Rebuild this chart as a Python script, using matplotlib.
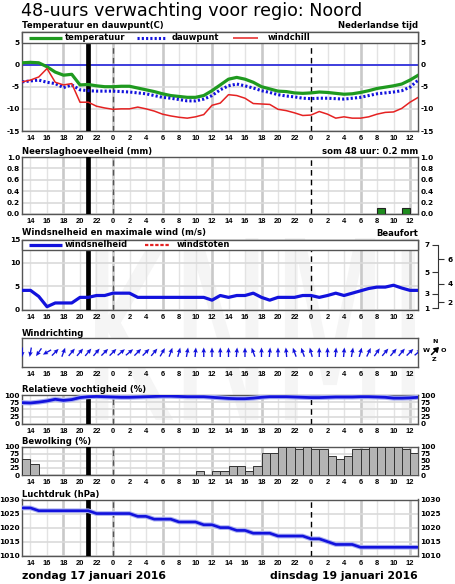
import matplotlib
matplotlib.use("Agg")
import matplotlib.pyplot as plt
import numpy as np
from matplotlib.patches import Rectangle, FancyArrowPatch, PathPatch
from matplotlib.textpath import TextPath
from matplotlib.font_manager import FontProperties
from matplotlib.transforms import Affine2D

plt.rcParams['font.family'] = ['DejaVu Sans']

# ---------------- data ----------------
hours = list(range(13, 62))  # 13:00 zondag .. 13:00 dinsdag
tick_hours = list(range(14, 61, 2))
tick_labels = [str(h % 24) for h in tick_hours]

temperature = [0.4, 0.5, 0.4, -0.5, -1.7, -2.4, -2.2, -4.6, -4.5, -4.8, -5.0, -5.0,
               -4.9, -4.9, -5.3, -5.7, -6.1, -6.6, -7.0, -7.2, -7.4, -7.4, -7.0, -5.9,
               -4.6, -3.3, -2.9, -3.3, -4.0, -5.0, -5.5, -6.0, -6.1, -6.4, -6.5, -6.4,
               -6.2, -6.3, -6.5, -6.7, -6.6, -6.3, -5.9, -5.4, -5.1, -4.8, -4.4, -3.5, -2.4]
dewpoint = [-3.9, -3.7, -3.5, -4.0, -4.3, -5.2, -4.6, -5.7, -5.9, -6.0, -6.0, -6.0,
            -6.1, -6.2, -6.4, -6.6, -7.0, -7.4, -7.6, -7.9, -8.2, -8.2, -7.8, -7.0,
            -5.7, -4.8, -4.4, -4.8, -5.3, -5.9, -6.3, -6.8, -7.1, -7.3, -7.6, -7.7,
            -7.6, -7.6, -7.7, -7.8, -7.6, -7.4, -7.0, -6.6, -6.4, -6.2, -5.9, -5.1, -3.5]
windchill = [-3.9, -3.5, -2.8, -0.9, -4.0, -4.6, -4.3, -8.5, -8.5, -9.4, -9.8, -10.1,
             -10.0, -10.0, -9.6, -10.0, -10.5, -11.2, -11.6, -11.9, -12.1, -11.8, -11.3, -9.2,
             -8.7, -6.8, -7.0, -7.6, -8.8, -8.9, -9.0, -10.1, -10.4, -10.9, -11.5, -11.4,
             -10.6, -11.2, -12.1, -11.8, -12.1, -12.1, -11.8, -11.2, -10.8, -10.7, -9.9, -8.5, -7.4]

precip_hours = [56, 59]
precip_mm = [0.1, 0.1]

wind_speed = [4.1, 4.1, 2.8, 0.6, 1.4, 1.4, 1.4, 2.6, 2.6, 3.0, 3.0, 3.5,
              3.5, 3.5, 2.6, 2.6, 2.6, 2.6, 2.6, 2.6, 2.6, 2.6, 2.6, 2.0,
              3.0, 2.6, 3.0, 3.0, 3.5, 2.6, 2.0, 2.6, 2.6, 2.6, 3.0, 3.0,
              2.6, 3.0, 3.5, 3.0, 3.5, 4.0, 4.5, 4.8, 4.8, 5.2, 4.6, 4.1, 4.1]
beaufort_ms = [0.3, 1.6, 3.4, 5.5, 8.0, 10.8, 13.9]
beaufort_labels = ['1', '2', '3', '4', '5', '6', '7']

# direction the arrow points to (degrees clockwise from north)
wind_dir = [180, 190, 215, 240, 45, 20, 40, 40, 40, 40, 45, 45,
            50, 50, 45, 45, 40, 30, 20, 15, 10, 5, 0, 0,
            0, 0, 5, 0, 340, 0, 5, 0, 355, 340, 340, 345,
            0, 0, 5, 5, 10, 15, 25, 35, 40, 40, 40, 45, 50]

humidity = [74, 73, 76, 80, 86, 82, 85, 92, 95, 96, 95, 94,
            93, 93, 94, 95, 96, 97, 97, 96, 95, 95, 95, 93,
            91, 89, 88, 88, 90, 93, 95, 95, 95, 94, 93, 92,
            92, 93, 94, 94, 94, 95, 95, 94, 93, 90, 90, 91, 93]

cloud_hours = list(range(13, 61))
clouds = [55, 40, 0, 0, 0, 0, 0, 0, 0, 0, 0, 0,
          0, 0, 0, 0, 0, 0, 0, 0, 0, 15, 0, 15,
          15, 30, 30, 15, 30, 78, 78, 100, 100, 90, 100, 90,
          90, 65, 55, 65, 90, 90, 100, 100, 100, 100, 90, 78]

pressure = [1027, 1027, 1026, 1026, 1026, 1026, 1026, 1026, 1026, 1025, 1025, 1025,
            1025, 1025, 1024, 1024, 1023, 1023, 1023, 1022, 1022, 1022, 1021, 1021,
            1020, 1020, 1019, 1019, 1018, 1018, 1018, 1017, 1017, 1017, 1017, 1016,
            1016, 1015, 1014, 1014, 1014, 1013, 1013, 1013, 1013, 1013, 1013, 1013, 1013]

now_hour = 21

# ---------------- layout ----------------
W, H = 455, 584
fig = plt.figure(figsize=(W / 100, H / 100), dpi=100)
fig.patch.set_facecolor('white')
L, R = 22.25, 418.25
PIX = Affine2D().scale(1 / W, 1 / H) + fig.transFigure

def box(top, bottom, left=L, right=R):
    return [left / W, 1 - bottom / H, (right - left) / W, (bottom - top) / H]

def ftext(x, y, s, **kw):
    fig.text(x / W, 1 - y / H, s, **kw)

# faint KNMI watermark behind the panels
tp = TextPath((0, 0), 'KNMI', size=1, prop=FontProperties(family='DejaVu Sans'))
ext = tp.get_extents()
wm_tr = (Affine2D().translate(-ext.x0, -ext.y0)
         .scale((415 - 95) / ext.width, (420 - 238) / ext.height)
         .translate(95, H - 420) + PIX)
fig.add_artist(PathPatch(tp, transform=wm_tr, facecolor='#f5f5f5', edgecolor='none',
                         zorder=-10))

XT_FONT = dict(family='Liberation Sans', size=5.4, weight='bold')
YT_FONT = dict(family='DejaVu Sans', size=5.3, weight='bold')
TITLE_FS = 6.1
GREEN = '#1f9a1f'
BLUE = '#1212dd'
RED = '#e52222'
SPINE = '#555555'

def style(ax, ylim, yticks, ylabels, bar=True, grid=True, right=True, hgrid=None):
    ax.set_xlim(13, 61)
    ax.set_ylim(*ylim)
    ax.set_facecolor('none')
    if grid:
        for h in range(14, 61, 2):
            if h % 24 == 0:
                continue
            if h % 6 == 0:
                ax.axvline(h, color='#c9c9c9', lw=1.9, zorder=0.5)
            else:
                ax.axvline(h, color='#e3e3e3', lw=1.0, zorder=0.5)
        for y in (hgrid if hgrid is not None else yticks):
            ax.axhline(y, color='#dadada', lw=1.2, zorder=0.6)
        ax.axvline(24, color='#c9c9c9', lw=1.9, zorder=0.5)
        ax.axvline(24, color='#555555', lw=1.0, ls=(0, (4, 3)), zorder=2)
        ax.axvline(48, color='black', lw=1.0, ls=(0, (4, 3)), zorder=2)
    if bar:
        ax.axvline(now_hour, color='black', lw=3.4, zorder=3)
    ax.set_xticks(tick_hours)
    ax.set_xticklabels(tick_labels, **XT_FONT)
    ax.set_yticks(yticks)
    ax.set_yticklabels(ylabels, **YT_FONT)
    ax.tick_params(axis='both', length=0, pad=1.6)
    ax.tick_params(axis='x', pad=3.0)
    if right:
        ax.tick_params(axis='y', labelright=True)
    for s in ax.spines.values():
        s.set_color(SPINE)
        s.set_linewidth(1.0)

def legend_box(ax, frac, items):
    ax.add_patch(Rectangle((0, 1 - frac), 1, frac, transform=ax.transAxes,
                           facecolor='white', edgecolor=SPINE, lw=1.0, zorder=6,
                           clip_on=False))
    yc = 1 - frac / 2
    for (x0, x1, tx, label, kw) in items:
        ax.plot([(x0 - L) / (R - L), (x1 - L) / (R - L)], [yc, yc],
                transform=ax.transAxes, zorder=7, clip_on=False,
                solid_capstyle='butt', **kw)
        ax.text((tx - L) / (R - L), yc, label, transform=ax.transAxes,
                fontsize=6.0, fontweight='bold', va='center', ha='left', zorder=7)

# title
ftext(21, 16, '48-uurs verwachting voor regio: Noord', fontsize=12.6, va='baseline',
      ha='left')

# ---- panel 1: temperature ----
ax1 = fig.add_axes(box(32, 131))
style(ax1, (-15, 7.35), [5, 0, -5, -10, -15], ['5', '0', '-5', '-10', '-15'])
ax1.axhline(0, color=BLUE, lw=1.1, zorder=2.5)
ax1.plot(hours, temperature, color=GREEN, lw=2.3, zorder=4, solid_joinstyle='round')
ax1.plot(hours, dewpoint, color=BLUE, lw=2.2, ls=(0, (0.7, 0.7)), zorder=4)
ax1.plot(hours, windchill, color=RED, lw=1.1, zorder=4)
legend_box(ax1, 11 / 99, [
    (29, 62, 65, 'temperatuur', dict(color=GREEN, lw=2.3)),
    (137, 165, 172, 'dauwpunt', dict(color=BLUE, lw=2.2, ls=(0, (0.7, 0.7)))),
    (233, 258, 268, 'windchill', dict(color=RED, lw=1.1)),
])
ftext(22, 28.5, 'Temperatuur en dauwpunt(C)', fontsize=TITLE_FS, fontweight='bold',
      va='baseline')
ftext(418, 28.5, 'Nederlandse tijd', fontsize=TITLE_FS, fontweight='bold', va='baseline',
      ha='right')

# ---- panel 2: precipitation ----
ax2 = fig.add_axes(box(157, 214))
style(ax2, (0, 1.0), [0, 0.2, 0.4, 0.6, 0.8, 1.0],
      ['0.0', '0.2', '0.4', '0.6', '0.8', '1.0'])
ax2.bar(precip_hours, precip_mm, width=0.95, align='edge', color='#1e8c1e',
        edgecolor='#222222', lw=0.8, zorder=4)
ftext(22, 153.5, 'Neerslaghoeveelheid (mm)', fontsize=TITLE_FS, fontweight='bold',
      va='baseline')
ftext(418, 153.5, 'som 48 uur: %.1f mm' % sum(precip_mm), fontsize=TITLE_FS,
      fontweight='bold', va='baseline', ha='right')

# ---- panel 3: wind speed ----
ax3 = fig.add_axes(box(239.5, 309.5))
style(ax3, (0, 15), [0, 5, 10, 15], ['0', '5', '10', '15'], right=False)
ax3.plot(hours, wind_speed, color=BLUE, lw=2.3, zorder=4)
legend_box(ax3, 10.5 / 70, [
    (29, 62, 65, 'windsnelheid', dict(color=BLUE, lw=2.3)),
    (145, 170, 177, 'windstoten', dict(color=RED, lw=1.6, ls=(0, (1.5, 0.8)))),
])
ftext(22, 235.5, 'Windsnelheid en maximale wind (m/s)', fontsize=TITLE_FS,
      fontweight='bold', va='baseline')
ftext(418, 235.5, 'Beaufort', fontsize=TITLE_FS, fontweight='bold', va='baseline',
      ha='right')

# Beaufort scale axis
bax = fig.add_axes(box(239.5, 309.5, 438, 438.3))
bax.set_ylim(0, 15)
bax.set_xticks([])
bax.set_facecolor('none')
for s in ['top', 'bottom', 'right']:
    bax.spines[s].set_visible(False)
bax.spines['left'].set_bounds(beaufort_ms[0], beaufort_ms[-1])
bax.spines['left'].set_color('#333333')
bax.set_yticks(beaufort_ms[0::2])
bax.set_yticklabels(beaufort_labels[0::2])
bax.tick_params(axis='y', length=4, width=0.8, color='#333333', pad=2,
                labelsize=5.3)
bax2 = bax.twinx()
bax2.spines['right'].set_position(('axes', 0))
bax2.set_ylim(0, 15)
for s in bax2.spines.values():
    s.set_visible(False)
bax2.set_yticks(beaufort_ms[1::2])
bax2.set_yticklabels(beaufort_labels[1::2])
bax2.tick_params(axis='y', length=4, width=0.8, color='#333333', pad=3,
                 labelsize=5.3)
for t in bax.get_yticklabels() + bax2.get_yticklabels():
    t.set_fontweight('bold')

# ---- panel 4: wind direction ----
ax4 = fig.add_axes(box(338, 366.5))
style(ax4, (-1, 1), [], [], bar=False, grid=False, right=False)
ax4.set_facecolor('white')
rad = np.radians(wind_dir)
ax4.quiver(hours, np.zeros(len(hours)), np.sin(rad), np.cos(rad), angles='uv',
           pivot='middle', scale_units='inches', scale=10.5, width=0.0034,
           headwidth=3.4, headlength=3.8, headaxislength=3.4, color=BLUE, zorder=4)
ftext(22, 335.5, 'Windrichting', fontsize=TITLE_FS, fontweight='bold', va='baseline')
# compass
CF = dict(fontsize=4.6, fontweight='bold', ha='center', va='center')
ftext(435, 341.5, 'N', **CF)
ftext(426.5, 350.5, 'W', **CF)
ftext(443.5, 350.5, 'O', **CF)
ftext(434.5, 359.5, 'Z', **CF)
fig.add_artist(FancyArrowPatch(
    (431.5 / W, 1 - 354.5 / H), (439.0 / W, 1 - 347.0 / H), transform=fig.transFigure,
    arrowstyle='-|>,head_length=2.6,head_width=1.7', color='black', lw=1.1,
    shrinkA=0, shrinkB=0))

# ---- panel 5: humidity ----
ax5 = fig.add_axes(box(395.3, 423.7))
style(ax5, (0, 100), [0, 25, 50, 75, 100], ['0', '25', '50', '75', '100'])
ax5.plot(hours, humidity, color='#aab0f0', lw=3.6, zorder=3.5)
ax5.plot(hours, humidity, color=BLUE, lw=2.0, zorder=4)
ftext(22, 392, 'Relatieve vochtigheid (%)', fontsize=TITLE_FS, fontweight='bold',
      va='baseline')

# ---- panel 6: clouds ----
ax6 = fig.add_axes(box(446.5, 475))
style(ax6, (0, 100), [0, 25, 50, 75, 100], ['0', '25', '50', '75', '100'])
ax6.bar(cloud_hours, clouds, width=1.0, align='edge', color='#b4b4b4',
        edgecolor='#333333', lw=0.7, zorder=2.8)
ftext(22, 443.5, 'Bewolking (%)', fontsize=TITLE_FS, fontweight='bold', va='baseline')

# ---- panel 7: pressure ----
ax7 = fig.add_axes(box(499.5, 555.7))
style(ax7, (1010, 1030), [1010, 1015, 1020, 1025, 1030],
      ['1010', '1015', '1020', '1025', '1030'])
ax7.plot(hours, pressure, color='#aab0f0', lw=3.4, zorder=3.5)
ax7.plot(hours, pressure, color=BLUE, lw=1.9, zorder=4)
ftext(22, 496.5, 'Luchtdruk (hPa)', fontsize=TITLE_FS, fontweight='bold', va='baseline')

# bottom dates
ftext(22, 579, 'zondag 17 januari 2016', fontsize=7.8, fontweight='bold', va='baseline')
ftext(418, 579, 'dinsdag 19 januari 2016', fontsize=7.8, fontweight='bold',
      va='baseline', ha='right')

fig.savefig('out.png', dpi=100, facecolor='white')
